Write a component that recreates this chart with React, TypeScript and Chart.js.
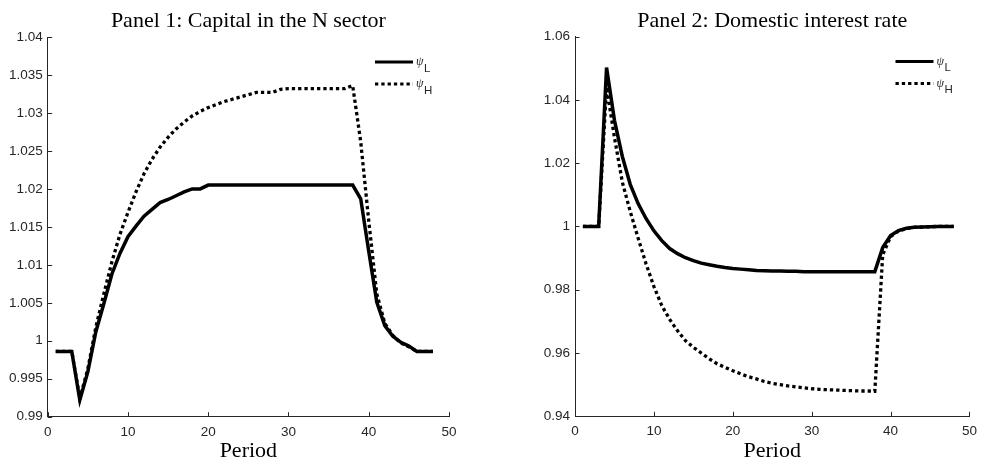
import React, { useEffect, useRef } from "react";
import { Chart, registerables } from "chart.js";

Chart.register(...registerables);

// Periods of the simulated response
const periods = [
  1, 2, 3, 4, 5, 6, 7, 8, 9, 10, 11, 12, 13, 14, 15, 16, 17, 18, 19, 20, 21, 22, 23, 24,
  25, 26, 27, 28, 29, 30, 31, 32, 33, 34, 35, 36, 37, 38, 39, 40, 41, 42, 43, 44, 45, 46, 47, 48,
];

// Panel 1: capital in the N sector
const capitalLow = [
  0.9986, 0.9986, 0.9986, 0.9922, 0.9959, 1.0012, 1.0049, 1.0088, 1.0115, 1.0137,
  1.0151, 1.0164, 1.0173, 1.0182, 1.0186, 1.0191, 1.0196, 1.02, 1.02, 1.0205,
  1.0205, 1.0205, 1.0205, 1.0205, 1.0205, 1.0205, 1.0205, 1.0205, 1.0205, 1.0205,
  1.0205, 1.0205, 1.0205, 1.0205, 1.0205, 1.0205, 1.0205, 1.0205,
  1.0187, 1.0118, 1.0051, 1.002, 1.0006, 0.9998, 0.9993, 0.9986, 0.9986, 0.9986,
];
const capitalHigh = [
  0.9986, 0.9986, 0.9986, 0.9924, 0.9963, 1.0018, 1.0062, 1.0104, 1.014, 1.0169,
  1.0196, 1.022, 1.0239, 1.0255, 1.0268, 1.0279, 1.0288, 1.0296, 1.0302, 1.0307,
  1.0311, 1.0315, 1.0318, 1.0321, 1.0324, 1.0327, 1.0327, 1.0327, 1.0331, 1.0332,
  1.0332, 1.0332, 1.0332, 1.0332, 1.0332, 1.0332, 1.0332, 1.0336,
  1.0262, 1.0158, 1.0062, 1.0023, 1.0007, 0.9997, 0.9992, 0.9986, 0.9986, 0.9986,
];

// Panel 2: domestic interest rate
const rateLow = [
  1.0, 1.0, 1.0, 1.0502, 1.0335, 1.0221, 1.0133, 1.0072, 1.0025, 0.9986,
  0.9955, 0.993, 0.9914, 0.9901, 0.9892, 0.9884, 0.9879, 0.9874, 0.987, 0.9867,
  0.9865, 0.9863, 0.9861, 0.986, 0.9859, 0.9859, 0.9858, 0.9858, 0.9857, 0.9857,
  0.9857, 0.9857, 0.9857, 0.9857, 0.9857, 0.9857, 0.9857, 0.9857,
  0.9933, 0.9971, 0.9987, 0.9994, 0.9997, 0.9998, 0.9999, 1.0, 1.0, 1.0,
];
const rateHigh = [
  1.0, 1.0, 1.0, 1.044, 1.0281, 1.014, 1.0047, 0.9963, 0.9882, 0.981,
  0.975, 0.9706, 0.967, 0.9639, 0.9618, 0.96, 0.9582, 0.9566, 0.9555, 0.9544,
  0.9534, 0.9525, 0.9518, 0.951, 0.9504, 0.95, 0.9496, 0.9493, 0.949, 0.9487,
  0.9485, 0.9484, 0.9483, 0.9482, 0.9481, 0.948, 0.948, 0.9479,
  0.991, 0.9968, 0.9985, 0.9993, 0.9997, 0.9998, 0.9999, 1.0, 1.0, 1.0,
];

// Axis ticks and their labels
const periodTicks = [0, 10, 20, 30, 40, 50];
const periodTickLabels = ["0", "10", "20", "30", "40", "50"];
const capitalTicks = [0.99, 0.995, 1.0, 1.005, 1.01, 1.015, 1.02, 1.025, 1.03, 1.035, 1.04];
const capitalTickLabels = ["0.99", "0.995", "1", "1.005", "1.01", "1.015", "1.02", "1.025", "1.03", "1.035", "1.04"];
const rateTicks = [0.94, 0.96, 0.98, 1.0, 1.02, 1.04, 1.06];
const rateTickLabels = ["0.94", "0.96", "0.98", "1", "1.02", "1.04", "1.06"];

// Legend entries: symbol with subscript
const seriesSymbols = ["\u03c8", "\u03c8"];
const seriesSubscripts = ["L", "H"];

const CANVAS_W = 492;
const CANVAS_H = 459;
const AXIS_COLOR = "#262626";
const SANS = "'Liberation Sans', Arial, Helvetica, sans-serif";
const SERIF = "'Liberation Serif', 'Times New Roman', serif";

type Area = { left: number; right: number; top: number; bottom: number };

type PanelProps = {
  title: string;
  low: number[];
  high: number[];
  yMin: number;
  yMax: number;
  yTicks: number[];
  yTickLabels: string[];
  area: Area;
  offsetLeft: number;
};

function Panel({ title, low, high, yMin, yMax, yTicks, yTickLabels, area, offsetLeft }: PanelProps) {
  const canvasRef = useRef<HTMLCanvasElement | null>(null);

  useEffect(() => {
    const canvas = canvasRef.current;
    if (!canvas) return;

    const decor = {
      id: "panelDecor",
      afterDraw(chart: any) {
        const { ctx, chartArea: a, scales } = chart;
        ctx.save();

        // inward tick marks
        ctx.strokeStyle = AXIS_COLOR;
        ctx.lineWidth = 1;
        ctx.setLineDash([]);
        for (const v of periodTicks) {
          const px = Math.round(scales.x.getPixelForValue(v)) + 0.5;
          ctx.beginPath();
          ctx.moveTo(px, a.bottom);
          ctx.lineTo(px, a.bottom - 4.5);
          ctx.stroke();
        }
        for (const v of yTicks) {
          const py = Math.round(scales.y.getPixelForValue(v)) + 0.5;
          ctx.beginPath();
          ctx.moveTo(a.left, py);
          ctx.lineTo(a.left + 4.5, py);
          ctx.stroke();
        }

        // title and x-axis label
        const cx = (a.left + a.right) / 2;
        ctx.fillStyle = "#000";
        ctx.font = `22px ${SERIF}`;
        ctx.textAlign = "center";
        ctx.textBaseline = "alphabetic";
        ctx.fillText(title, cx, 27);
        ctx.fillText("Period", cx, 457);

        // legend
        chart.data.datasets.forEach((ds: any, i: number) => {
          const y = a.top + 25 + i * 22;
          const x0 = a.right - 74;
          const x1 = a.right - 36;
          ctx.strokeStyle = ds.borderColor;
          ctx.lineWidth = 3;
          ctx.lineCap = "butt";
          ctx.setLineDash(ds.borderDash || []);
          ctx.beginPath();
          ctx.moveTo(x0, y);
          ctx.lineTo(x1, y);
          ctx.stroke();
          ctx.setLineDash([]);

          ctx.fillStyle = AXIS_COLOR;
          ctx.textAlign = "left";
          ctx.textBaseline = "alphabetic";
          ctx.font = `italic 12px ${SERIF}`;
          const sx = a.right - 33;
          ctx.fillText(seriesSymbols[i], sx, y + 3);
          const w = ctx.measureText(seriesSymbols[i]).width;
          ctx.font = `11.5px ${SANS}`;
          ctx.fillText(seriesSubscripts[i], sx + w + 0.5, y + 9.5);
        });

        ctx.restore();
      },
    };

    const chart = new Chart(canvas, {
      type: "line",
      data: {
        datasets: [
          {
            label: "low",
            data: periods.map((p, i) => ({ x: p, y: low[i] })),
            borderColor: "#000",
            borderWidth: 3.5,
            pointRadius: 0,
            tension: 0,
            order: 1,
          },
          {
            label: "high",
            data: periods.map((p, i) => ({ x: p, y: high[i] })),
            borderColor: "#000",
            borderWidth: 3.3,
            borderDash: [3.3, 3],
            borderCapStyle: "butt",
            pointRadius: 0,
            tension: 0,
            order: 0,
          },
        ],
      },
      options: {
        responsive: false,
        animation: false,
        devicePixelRatio: 1,
        layout: {
          padding: { left: 0, right: CANVAS_W - area.right, top: area.top, bottom: 0 },
        },
        plugins: {
          legend: { display: false },
          title: { display: false },
          tooltip: { enabled: false },
        },
        scales: {
          x: {
            type: "linear",
            min: 0,
            max: 50,
            afterFit: (s: any) => {
              s.height = CANVAS_H - area.bottom;
            },
            afterBuildTicks: (s: any) => {
              s.ticks = periodTicks.map((v) => ({ value: v }));
            },
            ticks: {
              autoSkip: false,
              maxRotation: 0,
              padding: 7,
              color: AXIS_COLOR,
              font: { family: SANS, size: 13.5 },
              callback: (_v: any, idx: number) => periodTickLabels[idx],
            },
            grid: { display: true, drawOnChartArea: false, drawTicks: false },
            border: { display: true, color: AXIS_COLOR, width: 1 },
          },
          y: {
            type: "linear",
            min: yMin,
            max: yMax,
            afterFit: (s: any) => {
              s.width = area.left;
            },
            afterBuildTicks: (s: any) => {
              s.ticks = yTicks.map((v) => ({ value: v }));
            },
            ticks: {
              autoSkip: false,
              padding: 5,
              color: AXIS_COLOR,
              font: { family: SANS, size: 13.5 },
              callback: (_v: any, idx: number) => yTickLabels[idx],
            },
            grid: { display: true, drawOnChartArea: false, drawTicks: false },
            border: { display: true, color: AXIS_COLOR, width: 1 },
          },
        },
      },
      plugins: [decor],
    } as any);

    return () => chart.destroy();
  }, [title, low, high, yMin, yMax, yTicks, yTickLabels, area]);

  return (
    <canvas
      ref={canvasRef}
      width={CANVAS_W}
      height={CANVAS_H}
      style={{ position: "absolute", left: offsetLeft, top: 0, width: CANVAS_W, height: CANVAS_H }}
    />
  );
}

const capitalArea: Area = { left: 47.7, right: 449, top: 37, bottom: 416.7 };
const rateArea: Area = { left: 83, right: 484.7, top: 36.5, bottom: 416.3 };

export default function App() {
  return (
    <div
      style={{
        position: "absolute",
        left: 0,
        top: 0,
        width: 984,
        height: 459,
        background: "#fff",
        overflow: "hidden",
      }}
    >
      <Panel
        title="Panel 1: Capital in the N sector"
        low={capitalLow}
        high={capitalHigh}
        yMin={0.99}
        yMax={1.04}
        yTicks={capitalTicks}
        yTickLabels={capitalTickLabels}
        area={capitalArea}
        offsetLeft={0}
      />
      <Panel
        title="Panel 2: Domestic interest rate"
        low={rateLow}
        high={rateHigh}
        yMin={0.94}
        yMax={1.06}
        yTicks={rateTicks}
        yTickLabels={rateTickLabels}
        area={rateArea}
        offsetLeft={492}
      />
    </div>
  );
}
